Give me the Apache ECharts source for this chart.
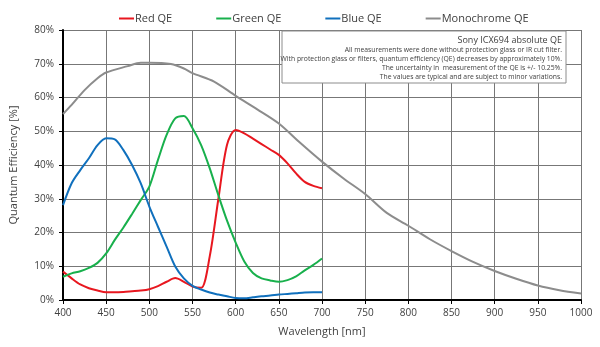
<!DOCTYPE html>
<html>
<head>
<meta charset="utf-8">
<script src="https://cdn.jsdelivr.net/npm/echarts@6/dist/echarts.min.js"></script>
<style>
  html, body { margin: 0; padding: 0; background: #fff; }
  #main { width: 600px; height: 347px; }
</style>
</head>
<body>
<div id="main"></div>
<script>
// wavelengths [nm] for the colour channels
const wlRgb = [400, 410, 420, 430, 440, 450, 460, 470, 480, 490, 500, 510, 520, 530, 540, 550,
  560, 570, 580, 590, 600, 610, 620, 630, 640, 650, 660, 670, 680, 690, 700]
const redQE = [8.4, 6.4, 4.6, 3.5, 2.8, 2.3, 2.3, 2.4, 2.6, 2.8, 3.2, 4.1, 5.4, 6.5, 5.4, 4.0,
  3.6, 13, 30, 46, 50.4, 49.4, 47.8, 46.2, 44.6, 43, 40.5, 37.5, 35, 33.8, 33.1]
const greenQE = [6.9, 7.9, 8.5, 9.5, 11, 13.8, 17.8, 21.5, 25.5, 29.6, 33.6, 41.5, 48.9, 53.8, 54.5, 50.9,
  45.9, 39, 31, 23.5, 17, 11.4, 8, 6.4, 5.8, 5.4, 5.9, 7, 8.8, 10.4, 12.3]
const blueQE = [28.1, 34.6, 38.5, 42, 45.9, 47.9, 47.6, 44.4, 40, 34.6, 27.7, 21.7, 15.8, 9.9, 6.4, 4.2,
  3.1, 2.2, 1.6, 1.1, 0.6, 0.5, 0.8, 1.1, 1.3, 1.6, 1.8, 2.0, 2.2, 2.3, 2.3]
// monochrome covers the full range
const wlMono = [400, 410, 425, 440, 450, 475, 490, 500, 525, 540, 550, 575, 600, 625, 650, 675, 700,
  725, 750, 775, 800, 825, 850, 875, 900, 925, 950, 975, 1000]
const monoQE = [55.1, 57.8, 62.2, 65.7, 67.4, 69.3, 70.3, 70.3, 69.9, 68.6, 67.2, 64.7, 60.5, 56.5, 52.3, 46.5, 41,
  36, 31.4, 25.8, 22, 18, 14.5, 11.3, 8.6, 6.3, 4.3, 2.9, 1.9]

const noteTitle = 'Sony ICX694 absolute QE'
const noteLines = [
  'All measurements were done without protection glass or IR cut filter.',
  'With protection glass or filters, quantum efficiency (QE) decreases by approximately 10%.',
  'The uncertainty in  measurement of the QE is +/- 10.25%.',
  'The values are typical and are subject to minor variations.'
]

function pairs (xs, ys) {
  return xs.map((x, i) => [x, ys[i]])
}

const font = 'Open Sans'
const txt = '#404040'

let chart = echarts.init(document.getElementById('main'))

let lineSeries = (name, color, xs, ys) => ({
  name: name,
  type: 'line',
  data: pairs(xs, ys),
  showSymbol: false,
  smooth: 0.3,
  lineStyle: { color: color, width: 2 },
  itemStyle: { color: color },
  z: 3
})

let noteGraphics = [
  {
    type: 'rect',
    shape: { x: 282, y: 31, width: 284, height: 52 },
    style: { fill: '#fff', stroke: '#8c8c8c', lineWidth: 1 },
    z: 10
  },
  {
    type: 'text',
    x: 562, y: 40,
    style: { text: noteTitle, align: 'right', verticalAlign: 'middle', fontFamily: font, fontSize: 9, fill: txt },
    z: 11
  }
]
noteLines.forEach((line, i) => {
  noteGraphics.push({
    type: 'text',
    x: 562, y: 50 + i * 9.1,
    style: { text: line, align: 'right', verticalAlign: 'middle', fontFamily: font, fontSize: 6.8, fill: txt },
    z: 11
  })
})

chart.setOption({
  backgroundColor: '#fff',
  animation: false,
  textStyle: { fontFamily: font },
  legend: {
    top: 8,
    left: 114,
    itemGap: 44,
    itemWidth: 15,
    itemHeight: 2,
    icon: 'rect',
    textStyle: { fontFamily: font, fontSize: 11, color: txt, padding: [0, 0, 0, -4] },
    data: ['Red QE', 'Green QE', 'Blue QE', 'Monochrome QE']
  },
  grid: { left: 62, right: 19, top: 30, bottom: 47 },
  xAxis: {
    type: 'value',
    min: 400,
    max: 1000,
    interval: 50,
    name: 'Wavelength [nm]',
    nameLocation: 'middle',
    nameGap: 26,
    nameTextStyle: { fontFamily: font, fontSize: 11, color: txt },
    axisLine: { lineStyle: { color: '#000', width: 2 } },
    axisTick: { show: true, length: 4, lineStyle: { color: '#000' } },
    axisLabel: { fontFamily: font, fontSize: 10, color: txt, margin: 8, formatter: v => String(v) },
    splitLine: { show: true, lineStyle: { color: '#777', width: 1 } }
  },
  yAxis: {
    type: 'value',
    min: 0,
    max: 80,
    interval: 10,
    name: 'Quantum Efficiency [%]',
    nameLocation: 'middle',
    nameGap: 44,
    nameTextStyle: { fontFamily: font, fontSize: 11, color: txt },
    axisLine: { show: true, lineStyle: { color: '#000', width: 2 } },
    axisTick: { show: true, length: 4, lineStyle: { color: '#000' } },
    axisLabel: { fontFamily: font, fontSize: 10, color: txt, margin: 9, formatter: '{value}%' },
    splitLine: { show: true, lineStyle: { color: '#777', width: 1 } }
  },
  graphic: noteGraphics,
  series: [
    lineSeries('Red QE', '#e8171f', wlRgb, redQE),
    lineSeries('Green QE', '#18b04c', wlRgb, greenQE),
    lineSeries('Blue QE', '#1070bd', wlRgb, blueQE),
    lineSeries('Monochrome QE', '#8c8c8c', wlMono, monoQE)
  ]
})
</script>
</body>
</html>
